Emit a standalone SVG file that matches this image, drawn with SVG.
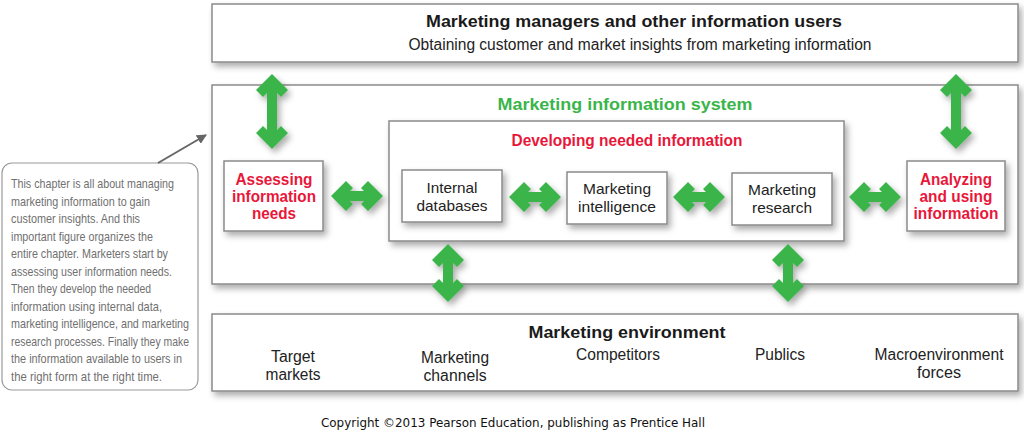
<svg xmlns="http://www.w3.org/2000/svg" width="1024" height="438" viewBox="0 0 1024 438">
<defs>
<filter id="sh" x="-10%" y="-10%" width="130%" height="140%">
<feDropShadow dx="3" dy="4" stdDeviation="3" flood-color="#000" flood-opacity="0.32"/>
</filter>
<marker id="ah" viewBox="0 0 10 10" refX="9" refY="5" markerWidth="5" markerHeight="5" orient="auto">
<path d="M0,0 L10,5 L0,10 Z" fill="#666"/>
</marker>
</defs>
<style>
.box{fill:#fff;stroke:#8a8a8a;stroke-width:1.5}
.arr{fill:#3ab54a;filter:url(#sh)}
text{font-family:"Liberation Sans",Arial,sans-serif}
.h{font-weight:bold;font-size:17px;fill:#1a1a1a;text-anchor:middle}
.g{font-weight:bold;font-size:16px;fill:#3ab54a;text-anchor:middle}
.r{font-weight:bold;font-size:16px;fill:#e8173a;text-anchor:middle}
.rb{font-weight:bold;font-size:16px;fill:#e8173a;text-anchor:middle}
.n{font-size:15px;fill:#222;text-anchor:middle}
.c{font-size:16px;fill:#222;text-anchor:middle}
.note{font-size:13.5px;fill:#707070}
.cp{font-family:"DejaVu Sans",sans-serif;font-size:12px;fill:#111;text-anchor:middle}
</style>

<g id="users">
<rect class="box" x="212" y="4" width="806" height="58" filter="url(#sh)"/>
<text class="h" x="634" y="27" textLength="416" lengthAdjust="spacingAndGlyphs">Marketing managers and other information users</text>
<text class="c" x="640" y="50" textLength="463" lengthAdjust="spacingAndGlyphs">Obtaining customer and market insights from marketing information</text>
</g>

<g id="mis">
<rect class="box" x="212" y="85" width="806" height="199" filter="url(#sh)"/>
<text class="g" x="625" y="110" textLength="255" lengthAdjust="spacingAndGlyphs">Marketing information system</text>
</g>

<g id="developing">
<rect class="box" x="389" y="121" width="455" height="120" filter="url(#sh)"/>
<text class="r" x="627" y="146" textLength="231" lengthAdjust="spacingAndGlyphs">Developing needed information</text>
</g>

<g id="assessing">
<rect class="box" x="224" y="161" width="99" height="70" filter="url(#sh)"/>
<text class="rb" x="274" y="185" textLength="77" lengthAdjust="spacingAndGlyphs">Assessing</text>
<text class="rb" x="274" y="202" textLength="84" lengthAdjust="spacingAndGlyphs">information</text>
<text class="rb" x="274" y="219" textLength="44" lengthAdjust="spacingAndGlyphs">needs</text>
</g>

<g id="internal">
<rect class="box" x="402" y="170" width="100" height="52" filter="url(#sh)"/>
<text class="n" x="452" y="193" textLength="51" lengthAdjust="spacingAndGlyphs">Internal</text>
<text class="n" x="452" y="211" textLength="71" lengthAdjust="spacingAndGlyphs">databases</text>
</g>

<g id="intelligence">
<rect class="box" x="567" y="172" width="100" height="52" filter="url(#sh)"/>
<text class="n" x="617" y="194" textLength="68" lengthAdjust="spacingAndGlyphs">Marketing</text>
<text class="n" x="617" y="212" textLength="78" lengthAdjust="spacingAndGlyphs">intelligence</text>
</g>

<g id="research">
<rect class="box" x="732" y="173" width="100" height="52" filter="url(#sh)"/>
<text class="n" x="782" y="195" textLength="68" lengthAdjust="spacingAndGlyphs">Marketing</text>
<text class="n" x="782" y="213" textLength="60" lengthAdjust="spacingAndGlyphs">research</text>
</g>

<g id="analyzing">
<rect class="box" x="907" y="161" width="98" height="70" filter="url(#sh)"/>
<text class="rb" x="956" y="185" textLength="72" lengthAdjust="spacingAndGlyphs">Analyzing</text>
<text class="rb" x="956" y="202" textLength="73" lengthAdjust="spacingAndGlyphs">and using</text>
<text class="rb" x="956" y="219" textLength="85" lengthAdjust="spacingAndGlyphs">information</text>
</g>

<g id="environment">
<rect class="box" x="212" y="314" width="806" height="77" filter="url(#sh)"/>
<text class="h" x="627" y="338" textLength="197" lengthAdjust="spacingAndGlyphs">Marketing environment</text>
<text class="c" x="293" y="362" textLength="44" lengthAdjust="spacingAndGlyphs">Target</text>
<text class="c" x="293" y="380" textLength="55" lengthAdjust="spacingAndGlyphs">markets</text>
<text class="c" x="455" y="363" textLength="68" lengthAdjust="spacingAndGlyphs">Marketing</text>
<text class="c" x="455" y="381" textLength="63" lengthAdjust="spacingAndGlyphs">channels</text>
<text class="c" x="618" y="360" textLength="84" lengthAdjust="spacingAndGlyphs">Competitors</text>
<text class="c" x="780" y="360" textLength="50" lengthAdjust="spacingAndGlyphs">Publics</text>
<text class="c" x="939" y="360" textLength="129" lengthAdjust="spacingAndGlyphs">Macroenvironment</text>
<text class="c" x="939" y="378" textLength="44" lengthAdjust="spacingAndGlyphs">forces</text>
</g>

<g id="note">
<rect x="2" y="163" width="196" height="227" rx="10" ry="10" fill="#fff" stroke="#9a9a9a" stroke-width="1.2"/>
<text class="note" x="11" y="188" textLength="163" lengthAdjust="spacingAndGlyphs">This chapter is all about managing</text>
<text class="note" x="11" y="205.5" textLength="139" lengthAdjust="spacingAndGlyphs">marketing information to gain</text>
<text class="note" x="11" y="223" textLength="129" lengthAdjust="spacingAndGlyphs">customer insights. And this</text>
<text class="note" x="11" y="240.5" textLength="142" lengthAdjust="spacingAndGlyphs">important figure organizes the</text>
<text class="note" x="11" y="258" textLength="157" lengthAdjust="spacingAndGlyphs">entire chapter. Marketers start by</text>
<text class="note" x="11" y="275.5" textLength="161" lengthAdjust="spacingAndGlyphs">assessing user information needs.</text>
<text class="note" x="11" y="293" textLength="140" lengthAdjust="spacingAndGlyphs">Then they develop the needed</text>
<text class="note" x="11" y="310.5" textLength="151" lengthAdjust="spacingAndGlyphs">information using internal data,</text>
<text class="note" x="11" y="328" textLength="178" lengthAdjust="spacingAndGlyphs">marketing intelligence, and marketing</text>
<text class="note" x="11" y="345.5" textLength="178" lengthAdjust="spacingAndGlyphs">research processes. Finally they make</text>
<text class="note" x="11" y="363" textLength="171" lengthAdjust="spacingAndGlyphs">the information available to users in</text>
<text class="note" x="11" y="380.5" textLength="151" lengthAdjust="spacingAndGlyphs">the right form at the right time.</text>
</g>

<g id="connectors">
<line x1="158" y1="163" x2="206" y2="135" stroke="#666" stroke-width="2" marker-end="url(#ah)"/>
<path class="arr" transform="translate(272,74)" d="M0,0 L16,16 L9,23 L5,19 L5,56 L9,52 L16,59 L0,75 L-16,59 L-9,52 L-5,56 L-5,19 L-9,23 L-16,16 Z"/>
<path class="arr" transform="translate(956,74)" d="M0,0 L16,16 L9,23 L5,19 L5,56 L9,52 L16,59 L0,75 L-16,59 L-9,52 L-5,56 L-5,19 L-9,23 L-16,16 Z"/>
<path class="arr" transform="translate(448,244)" d="M0,0 L16,16 L9,23 L5,19 L5,39 L9,35 L16,42 L0,58 L-16,42 L-9,35 L-5,39 L-5,19 L-9,23 L-16,16 Z"/>
<path class="arr" transform="translate(788,244)" d="M0,0 L16,16 L9,23 L5,19 L5,39 L9,35 L16,42 L0,58 L-16,42 L-9,35 L-5,39 L-5,19 L-9,23 L-16,16 Z"/>
<path class="arr" transform="translate(331,196)" d="M0,0 L15,-15 L22,-8 L19,-5 L33,-5 L30,-8 L37,-15 L52,0 L37,15 L30,8 L33,5 L19,5 L22,8 L15,15 Z"/>
<path class="arr" transform="translate(509,197)" d="M0,0 L15,-15 L22,-8 L19,-5 L33,-5 L30,-8 L37,-15 L52,0 L37,15 L30,8 L33,5 L19,5 L22,8 L15,15 Z"/>
<path class="arr" transform="translate(673,197)" d="M0,0 L15,-15 L22,-8 L19,-5 L33,-5 L30,-8 L37,-15 L52,0 L37,15 L30,8 L33,5 L19,5 L22,8 L15,15 Z"/>
<path class="arr" transform="translate(849,197)" d="M0,0 L15,-15 L22,-8 L19,-5 L33,-5 L30,-8 L37,-15 L52,0 L37,15 L30,8 L33,5 L19,5 L22,8 L15,15 Z"/>
</g>

<text class="cp" x="513" y="427" textLength="384" lengthAdjust="spacingAndGlyphs">Copyright ©2013 Pearson Education, publishing as Prentice Hall</text>
</svg>
